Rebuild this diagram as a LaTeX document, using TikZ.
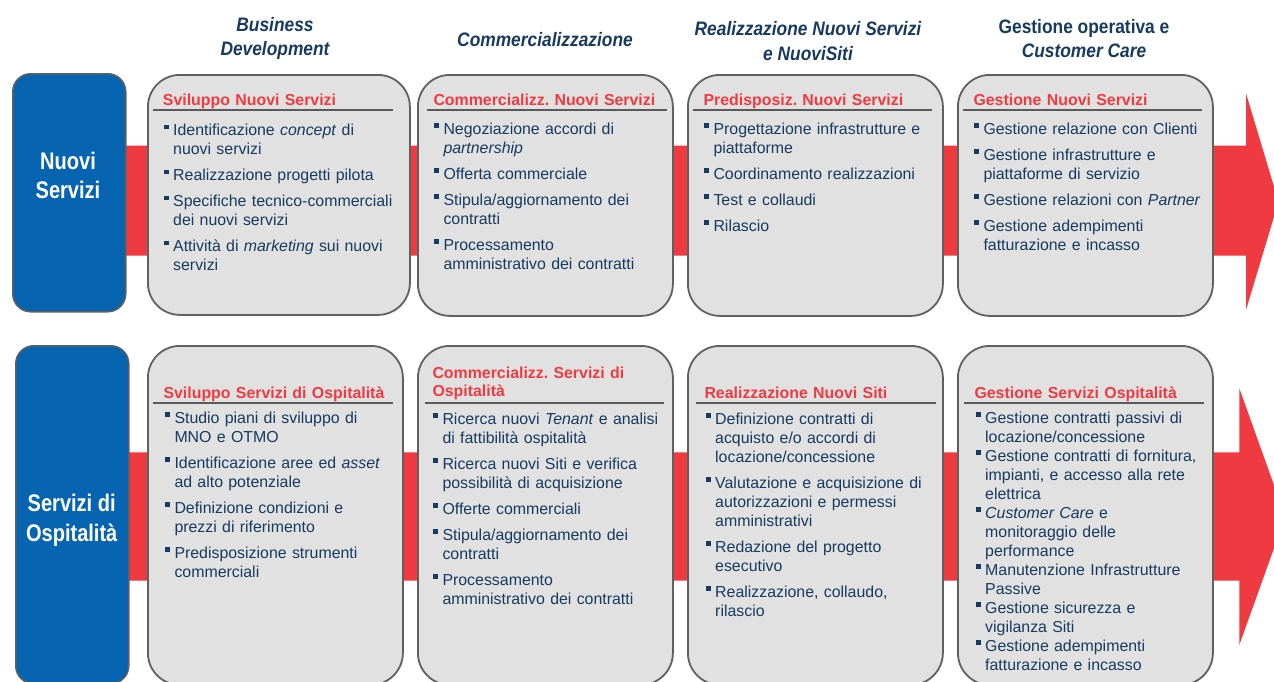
\documentclass[tikz,border=0pt]{standalone}
\usepackage{fontspec}
\setmainfont{Liberation Sans}
\newfontfamily\hdfont[FakeStretch=0.89]{Liberation Sans}
\newfontfamily\bxfont[FakeStretch=0.835]{Liberation Sans}
\frenchspacing
\definecolor{navy}{HTML}{173A60}
\definecolor{tred}{HTML}{EE3A40}
\definecolor{bandred}{HTML}{EE3A40}
\definecolor{boxblue}{HTML}{0664B0}
\definecolor{cardfill}{HTML}{E1E1E1}
\definecolor{cardline}{HTML}{606060}
\definecolor{rulegray}{HTML}{5A5A5A}
\newcommand\blmark{\rule{0pt}{13pt}\llap{\raisebox{6.6pt}{\rule{4.8pt}{4.8pt}}\hspace{4.4pt}}}
\newcommand\blf{\noindent\blmark}
\newcommand\bl{\par\noindent\blmark}
\newcommand\ps[1]{\setlength{\parskip}{#1}}
\tikzset{
  card/.style={draw=cardline, line width=1.8pt, fill=cardfill, rounded corners=32pt, anchor=north west, inner sep=0pt},
  bbox/.style={draw=cardline, line width=1.5pt, fill=boxblue, rounded corners=18pt, anchor=north west, inner sep=0pt},
  bxtext/.style={anchor=north, inner sep=0pt, align=center, text=white, font=\bxfont\bfseries\fontsize{24}{29.5}\selectfont},
  hdtext/.style={anchor=north, inner sep=0pt, align=center, text=navy, font=\hdfont\bfseries\fontsize{19.5}{24.5}\selectfont},
  body/.style={anchor=north west, inner sep=0pt, text width=262pt, align=left, text=navy, font=\fontsize{15.9}{19}\selectfont},
  ttl/.style={anchor=north west, inner sep=0pt, text width=250pt, align=left, text=tred, font=\bfseries\fontsize{15.9}{18.5}\selectfont},
  hrule/.style={draw=rulegray, line width=2pt},
  band/.style={fill=bandred}
}
\begin{document}
\begin{tikzpicture}[x=1pt,y=-1pt]
\path[use as bounding box] (0,0) rectangle (1274,681);
\clip (0,0) rectangle (1274,681);
\fill[white] (0,0) rectangle (1274,681);

% arrows
\fill[band] (100,145.7) -- (1246,145.7) -- (1246,93.3) -- (1278.5,201.7) -- (1246,310) -- (1246,255.5) -- (100,255.5) -- cycle;
\fill[band] (100,452.3) -- (1239.3,452.3) -- (1239.3,388.3) -- (1285.3,516.7) -- (1239.3,645) -- (1239.3,580.7) -- (100,580.7) -- cycle;

% headers
\node[hdtext] (h1) at (275,16.2) {\rule{0pt}{15pt}\itshape Business\\\itshape Development};
\node[hdtext] (h2) at (545,31.5) {\rule{0pt}{15pt}\itshape Commercializzazione};
\node[hdtext] (h3) at (808,20.3) {\rule{0pt}{15pt}\itshape Realizzazione Nuovi Servizi\\\itshape e NuoviSiti};
\node[hdtext] (h4) at (1084,18) {\rule{0pt}{15pt}Gestione operativa e\\\itshape Customer Care};

% blue boxes
\node[bbox, minimum width=113pt, minimum height=238pt] (nb1) at (12,73) {};
\node[bxtext] (nt1) at (68,151) {\rule{0pt}{18pt}Nuovi\\Servizi};
\node[bbox, minimum width=113pt, minimum height=338pt] (nb2) at (15,345) {};
\node[bxtext] (nt2) at (71.7,493.7) {\rule{0pt}{18pt}Servizi di\\Ospitalità};

% top cards
\node[card, minimum width=262pt, minimum height=240pt] (c11) at (147,74) {};
\node[card, minimum width=255pt, minimum height=241pt] (c12) at (417,74) {};
\node[card, minimum width=255pt, minimum height=241pt] (c13) at (687,74) {};
\node[card, minimum width=255pt, minimum height=241pt] (c14) at (957,74) {};
% bottom cards
\node[card, minimum width=255pt, minimum height=339pt] (c21) at (147,345) {};
\node[card, minimum width=255pt, minimum height=339pt] (c22) at (417,345) {};
\node[card, minimum width=255pt, minimum height=339pt] (c23) at (687,345) {};
\node[card, minimum width=255pt, minimum height=339pt] (c24) at (957,345) {};

% rules
\draw[hrule] (153,109.5) -- (393,109.5);
\draw[hrule] (427,109.5) -- (667,109.5);
\draw[hrule] (693,109.5) -- (932,109.5);
\draw[hrule] (963,109.5) -- (1202,109.5);
\draw[hrule] (153,403) -- (393,403);
\draw[hrule] (425,403) -- (664,403);
\draw[hrule] (696,403) -- (936,403);
\draw[hrule] (964,403) -- (1204,403);

% titles
\node[ttl] (t11) at (162.7,92.5) {\rule{0pt}{13pt}Sviluppo Nuovi Servizi};
\node[ttl] (t12) at (433.3,92.5) {\rule{0pt}{13pt}Commercializz. Nuovi Servizi};
\node[ttl] (t13) at (703.3,92.5) {\rule{0pt}{13pt}Predisposiz. Nuovi Servizi};
\node[ttl] (t14) at (973.3,92.5) {\rule{0pt}{13pt}Gestione Nuovi Servizi};
\node[ttl] (t21) at (163.3,385) {\rule{0pt}{13pt}Sviluppo Servizi di Ospitalità};
\node[ttl] (t22) at (432.3,365) {\rule{0pt}{13pt}Commercializz. Servizi di\\Ospitalità};
\node[ttl] (t23) at (704.3,385.5) {\rule{0pt}{13pt}Realizzazione Nuovi Siti};
\node[ttl] (t24) at (974.3,385.5) {\rule{0pt}{13pt}Gestione Servizi Ospitalità};

% bodies top
\node[body] (b11) at (173,122.7) {\ps{7pt}%
\blf Identificazione \textit{concept} di\\nuovi servizi
\bl Realizzazione progetti pilota
\bl Specifiche tecnico-commerciali\\dei nuovi servizi
\bl Attività di \textit{marketing} sui nuovi\\servizi};
\node[body] (b12) at (443.3,121.5) {\ps{7pt}%
\blf Negoziazione accordi di\\\textit{partnership}
\bl Offerta commerciale
\bl Stipula/aggiornamento dei\\contratti
\bl Processamento\\amministrativo dei contratti};
\node[body] (b13) at (713.3,121.5) {\ps{7pt}%
\blf Progettazione infrastrutture e\\piattaforme
\bl Coordinamento realizzazioni
\bl Test e collaudi
\bl Rilascio};
\node[body] (b14) at (983.3,121) {\ps{7pt}%
\blf Gestione relazione con Clienti
\bl Gestione infrastrutture e\\piattaforme di servizio
\bl Gestione relazioni con \textit{Partner}
\bl Gestione adempimenti\\fatturazione e incasso};

% bodies bottom
\node[body] (b21) at (174.3,410.5) {\ps{7pt}%
\blf Studio piani di sviluppo di\\MNO e OTMO
\bl Identificazione aree ed \textit{asset}\\ad alto potenziale
\bl Definizione condizioni e\\prezzi di riferimento
\bl Predisposizione strumenti\\commerciali};
\node[body] (b22) at (442.3,411) {\ps{7pt}%
\blf Ricerca nuovi \textit{Tenant} e analisi\\di fattibilità ospitalità
\bl Ricerca nuovi Siti e verifica\\possibilità di acquisizione
\bl Offerte commerciali
\bl Stipula/aggiornamento dei\\contratti
\bl Processamento\\amministrativo dei contratti};
\node[body] (b23) at (715,411) {\ps{7pt}%
\blf Definizione contratti di\\acquisto e/o accordi di\\locazione/concessione
\bl Valutazione e acquisizione di\\autorizzazioni e permessi\\amministrativi
\bl Redazione del progetto\\esecutivo
\bl Realizzazione, collaudo,\\rilascio};
\node[body] (b24) at (985,410.5) {\ps{0pt}%
\blf Gestione contratti passivi di\\locazione/concessione
\bl Gestione contratti di fornitura,\\impianti, e accesso alla rete\\elettrica
\bl \textit{Customer Care} e\\monitoraggio delle\\performance
\bl Manutenzione Infrastrutture\\Passive
\bl Gestione sicurezza e\\vigilanza Siti
\bl Gestione adempimenti\\fatturazione e incasso};
\end{tikzpicture}
\end{document}
